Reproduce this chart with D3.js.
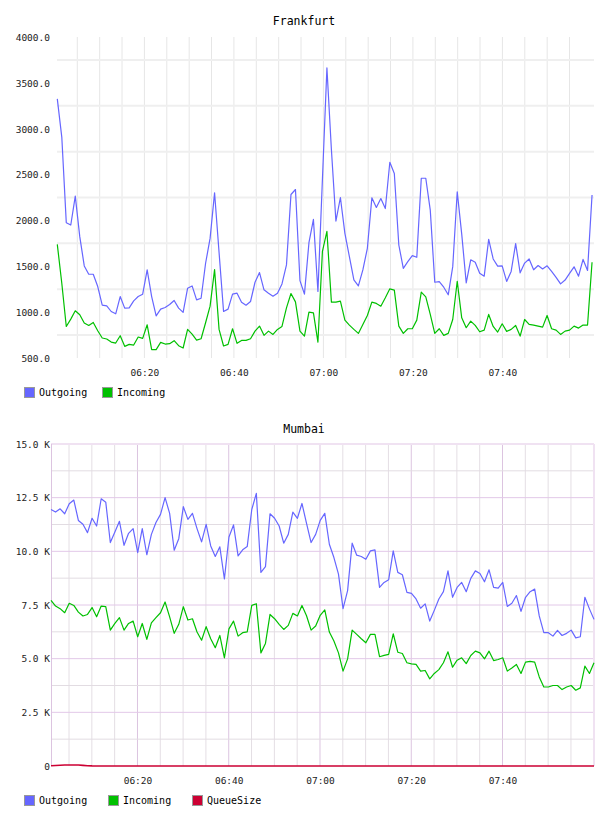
<!DOCTYPE html>
<meta charset="utf-8">

<script src="https://d3js.org/d3.v7.min.js"></script>

<style type="text/css">
body {
  margin: 0;
  background: #fff;
}
svg text {
  font-family: "DejaVu Sans Mono", monospace;
}
</style>

<body>
</body>

<script>

  // ---- Frankfurt (one sample a minute) ----
  var fraStart = "06:00:32";
  var fraOutgoing = [
    3326, 2909, 1975, 1950, 2265, 1823, 1504, 1413, 1413, 1279,
    1076, 1069, 1007, 982, 1170, 1044, 1047, 1123, 1170, 1196,
    1460, 1170, 960, 1033, 1051, 1083, 1127, 1044, 997, 1261,
    1286, 1134, 1152, 1533, 1804, 2301, 1650, 1007, 1033, 1196,
    1207, 1109, 1076, 1116, 1326, 1431, 1243, 1207, 1174, 1207,
    1308, 1515, 2283, 2337, 1344, 1196, 1757, 2011, 1225, 2450,
    3663, 2770, 1993, 2250, 1859, 1605, 1352, 1286, 1460, 1696,
    2246, 2141, 2239, 2130, 2634, 2511, 1732, 1478, 1551, 1616,
    1598, 2460, 2460, 2112, 1326, 1333, 1272, 1189, 1496, 2312,
    1850, 1319, 1571, 1544, 1425, 1392, 1794, 1580, 1502, 1505,
    1335, 1444, 1748, 1429, 1535, 1580, 1462, 1508, 1471, 1505,
    1444, 1380, 1308, 1350, 1422, 1494, 1392, 1575, 1455, 2277
  ];
  var fraIncoming = [
    1739, 1315, 844, 924, 1015, 971, 881, 855, 888, 797,
    718, 707, 674, 663, 743, 627, 649, 641, 729, 714,
    862, 591, 591, 670, 652, 656, 689, 634, 609, 812,
    760, 695, 710, 884, 1065, 1464, 812, 631, 649, 819,
    660, 692, 692, 710, 793, 848, 747, 793, 757, 812,
    844, 1047, 1203, 1112, 793, 739, 1000, 993, 674, 1663,
    1880, 1109, 1109, 1120, 913, 859, 812, 768, 866, 964,
    1109, 1095, 1065, 1156, 1254, 1240, 848, 768, 819, 819,
    913, 1218, 1167, 975, 768, 819, 747, 768, 920, 1337,
    938, 830, 902, 855, 786, 804, 975, 844, 783, 873,
    790, 812, 855, 739, 920, 866, 859, 848, 837, 964,
    819, 804, 757, 793, 804, 848, 826, 859, 859, 1544
  ];
  var fraYTicks = [500, 1000, 1500, 2000, 2500, 3000, 3500, 4000];
  var fraYGrid = [750, 1250, 1750, 2250, 2750, 3250, 3750];

  // ---- Mumbai ----
  var mumStart = "06:01:03";
  var mumOutgoing = [
    11950, 11830, 11980, 11750, 12220, 12390, 11440, 11260, 10870, 11540,
    11180, 12450, 12290, 10410, 10900, 11400, 10280, 10840, 11060, 9940,
    11060, 9840, 10790, 11340, 11720, 12500, 11770, 10050, 10590, 12080,
    11490, 11770, 11060, 10440, 11260, 10250, 9760, 10210, 8710, 10670,
    11230, 9790, 10070, 10220, 11950, 12700, 9020, 9290, 11750, 11540,
    11180, 10380, 10790, 11830, 11540, 12230, 11300, 10410, 10790, 11440,
    11770, 10330, 9710, 8940, 7330, 8170, 10380, 9820, 9760, 9630,
    10020, 10070, 8320, 8550, 8680, 10020, 9020, 8910, 8090, 8040,
    7780, 7350, 7550, 6750, 7250, 7780, 8120, 9090, 7860, 8320,
    8550, 8120, 8740, 9090, 8970, 8580, 9140, 8320, 8290, 8550,
    7430, 7580, 7940, 7200, 7860, 8120, 8240, 6990, 6210, 6210,
    6050, 6320, 6080, 6180, 6330, 5970, 6020, 7860, 7320, 6830
  ];
  var mumIncoming = [
    7720, 7450, 7330, 7140, 7580, 7480, 7170, 6990, 7060, 7380,
    6950, 7450, 7420, 6330, 6640, 6910, 6330, 6640, 6750, 6020,
    6640, 5900, 6670, 6910, 7140, 7640, 6950, 6180, 6600, 7420,
    6800, 6860, 6240, 5860, 6490, 5930, 5510, 6080, 5040, 6390,
    6750, 6050, 6210, 6250, 7480, 7560, 5270, 5710, 7060, 6860,
    6600, 6360, 6550, 7110, 6990, 7480, 7000, 6330, 6520, 7020,
    7270, 6240, 5820, 5270, 4420, 4990, 6330, 6130, 5930, 5740,
    6130, 6130, 5090, 5150, 5200, 6160, 5300, 5240, 4810, 4760,
    4730, 4420, 4450, 4060, 4310, 4490, 4810, 5320, 4600, 4930,
    5040, 4770, 5150, 5350, 5270, 4990, 5350, 4910, 4960, 5040,
    4420, 4570, 4730, 4310, 4840, 4870, 4840, 4150, 3680, 3680,
    3750, 3750, 3560, 3680, 3750, 3530, 3640, 4650, 4310, 4810
  ];
  var mumQueueSize = [
    10, 25, 35, 45, 50, 50, 45, 30, 15, 5,
    0, 0, 0, 0, 0, 0, 0, 0, 0, 0,
    0, 0, 0, 0, 0, 0, 0, 0, 0, 0,
    0, 0, 0, 0, 0, 0, 0, 0, 0, 0,
    0, 0, 0, 0, 0, 0, 0, 0, 0, 0,
    0, 0, 0, 0, 0, 0, 0, 0, 0, 0,
    0, 0, 0, 0, 0, 0, 0, 0, 0, 0,
    0, 0, 0, 0, 0, 0, 0, 0, 0, 0,
    0, 0, 0, 0, 0, 0, 0, 0, 0, 0,
    0, 0, 0, 0, 0, 0, 0, 0, 0, 0,
    0, 0, 0, 0, 0, 0, 0, 0, 0, 0,
    0, 0, 0, 0, 0, 0, 0, 0, 0, 0
  ];
  var mumYTicks = [0, 2500, 5000, 7500, 10000, 12500, 15000];
  var mumYMinor = [1250, 3750, 6250, 8750, 11250, 13750];

  var timeTicks = ["06:20", "06:40", "07:00", "07:20", "07:40"];

  var colors = {Outgoing: "#6666ff", Incoming: "#00c000", QueueSize: "#cc0033"};

  var parseClock = d3.timeParse("%H:%M:%S");
  var parseHM = d3.timeParse("%H:%M");
  var fmtHM = d3.timeFormat("%H:%M");

  var svg = d3.select("body").append("svg")
      .attr("width", 608)
      .attr("height", 816);

  // timestamps for each sample
  function sampleTimes(start, n, stepSec) {
    var t0 = parseClock(start);
    return d3.range(n).map(function(i) { return new Date(t0.getTime() + i * stepSec * 1000); });
  }

  function drawChart(cfg) {
    var g = svg.append("g")
        .attr("transform", "translate(" + cfg.left + "," + cfg.top + ")");
    var w = cfg.width, h = cfg.height;

    var x = d3.scaleTime().domain(cfg.xDomain).range([0, w]);
    var y = d3.scaleLinear().domain(cfg.yDomain).range([h, 0]);

    // title
    svg.append("text")
      .attr("x", 304)
      .attr("y", cfg.titleY)
      .attr("text-anchor", "middle")
      .style("font-size", "11.5px")
      .attr("fill", "#000")
      .text(cfg.title);

    // grid
    var fiveMin = d3.timeMinute.every(5).range(cfg.xDomain[0], cfg.xDomain[1])
      .filter(function(d) { return x(d) < w - 3; });

    g.selectAll(".vgrid")
      .data(fiveMin).enter().append("line")
      .attr("x1", function(d) { return x(d); })
      .attr("x2", function(d) { return x(d); })
      .attr("y1", 0).attr("y2", h)
      .attr("stroke", function(d) {
        return (cfg.majorV && d.getMinutes() % 20 === 0) ? cfg.majorV : cfg.minorV;
      })
      .attr("stroke-width", 1);

    g.selectAll(".hgrid")
      .data(cfg.hMinor).enter().append("line")
      .attr("x1", 0).attr("x2", w)
      .attr("y1", function(d) { return y(d); })
      .attr("y2", function(d) { return y(d); })
      .attr("stroke", cfg.minorH)
      .attr("stroke-width", cfg.minorHWidth);

    if (cfg.hMajor) {
      g.selectAll(".hmajor")
        .data(cfg.hMajor).enter().append("line")
        .attr("x1", 0).attr("x2", w)
        .attr("y1", function(d) { return y(d); })
        .attr("y2", function(d) { return y(d); })
        .attr("stroke", cfg.majorH)
        .attr("stroke-width", 1);
    }

    if (cfg.frame) {
      g.append("line").attr("x1", 0).attr("x2", w).attr("y1", 0).attr("y2", 0)
        .attr("stroke", cfg.frame).attr("stroke-width", 2);
      g.append("line").attr("x1", w).attr("x2", w).attr("y1", 0).attr("y2", h)
        .attr("stroke", cfg.frame).attr("stroke-width", 2);
      g.append("line").attr("x1", 0.5).attr("x2", 0.5).attr("y1", 0).attr("y2", h)
        .attr("stroke", cfg.leftAxis).attr("stroke-width", 1);
    }

    // axes (labels only)
    var yAxis = d3.axisLeft(y)
      .tickValues(cfg.yTicks)
      .tickFormat(cfg.yFormat)
      .tickSize(0)
      .tickPadding(cfg.yPad);

    g.append("g")
      .attr("class", "y axis")
      .call(yAxis)
      .call(function(a) { a.select(".domain").remove(); })
      .selectAll("text")
        .attr("fill", "#222")
        .attr("dy", "0.35em")
        .style("font-family", "'DejaVu Sans Mono', monospace")
        .style("font-size", "9.5px");

    var xAxis = d3.axisBottom(x)
      .tickValues(timeTicks.map(parseHM))
      .tickFormat(fmtHM)
      .tickSize(0);

    g.append("g")
      .attr("class", "x axis")
      .attr("transform", "translate(0," + h + ")")
      .call(xAxis)
      .call(function(a) { a.select(".domain").remove(); })
      .selectAll("text")
        .attr("fill", "#222")
        .attr("y", 15)
        .attr("dy", "0.35em")
        .style("font-family", "'DejaVu Sans Mono', monospace")
        .style("font-size", "9.5px");

    // lines
    var line = d3.line()
      .x(function(d) { return x(d.t); })
      .y(function(d) { return y(d.v); });

    cfg.series.forEach(function(s) {
      var pts = s.values.map(function(v, i) { return {t: cfg.times[i], v: v}; });
      g.append("path")
        .datum(pts)
        .attr("fill", "none")
        .attr("stroke", colors[s.name])
        .attr("stroke-width", s.width || 1.2)
        .attr("stroke-linejoin", "round")
        .attr("d", line);
    });

    // legend
    var leg = svg.selectAll(".leg" + cfg.id)
      .data(cfg.series).enter().append("g")
      .attr("transform", function(d, i) {
        return "translate(" + (24 + i * cfg.legendStep) + "," + cfg.legendY + ")";
      });

    leg.append("rect")
      .attr("x", 0.5).attr("y", -4.5)
      .attr("width", 10).attr("height", 10)
      .attr("fill", function(d) { return colors[d.name]; })
      .attr("stroke", "#999");

    leg.append("text")
      .attr("x", 15)
      .attr("y", 0)
      .attr("dy", "0.35em")
      .style("font-size", "10px")
      .attr("fill", "#000")
      .text(function(d) { return d.name; });
  }

  var fraTimes = sampleTimes(fraStart, fraOutgoing.length, 60.25);
  drawChart({
    id: "fra",
    title: "Frankfurt",
    titleY: 25,
    left: 57, top: 37, width: 537, height: 321,
    times: fraTimes,
    xDomain: [parseClock("06:00:28"), parseClock("08:00:28")],
    yDomain: [500, 4000],
    yTicks: fraYTicks,
    yFormat: d3.format(".1f"),
    yPad: 7,
    hMinor: fraYGrid,
    minorH: "#efefef",
    minorHWidth: 2,
    minorV: "#e6e6e6",
    series: [
      {name: "Outgoing", values: fraOutgoing},
      {name: "Incoming", values: fraIncoming}
    ],
    legendY: 392,
    legendStep: 78
  });

  var mumTimes = sampleTimes(mumStart, mumOutgoing.length, 60);
  drawChart({
    id: "mum",
    title: "Mumbai",
    titleY: 433,
    left: 51, top: 444, width: 543, height: 322,
    times: mumTimes,
    xDomain: d3.extent(mumTimes),
    yDomain: [0, 15000],
    yTicks: mumYTicks,
    yFormat: function(d) { return d === 0 ? "0" : d3.format(".1f")(d / 1000) + " K"; },
    yPad: 1,
    hMinor: mumYMinor,
    minorH: "#e2dce2",
    minorHWidth: 1,
    hMajor: mumYTicks.slice(1, -1),
    majorH: "#e2c8e8",
    minorV: "#e4dee4",
    majorV: "#dcc4e0",
    frame: "#f0e2f2",
    leftAxis: "#dcc4e0",
    series: [
      {name: "Outgoing", values: mumOutgoing},
      {name: "Incoming", values: mumIncoming},
      {name: "QueueSize", values: mumQueueSize, width: 1.6}
    ],
    legendY: 800,
    legendStep: 84
  });

</script>
